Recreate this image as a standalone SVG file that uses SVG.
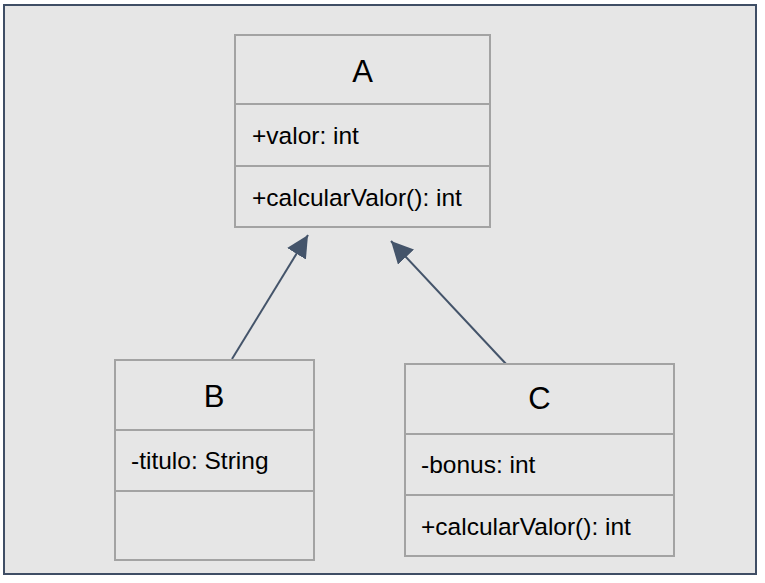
<svg xmlns="http://www.w3.org/2000/svg" width="765" height="583" viewBox="0 0 765 583">
  <style>
    .frame { fill: #e6e6e6; stroke: #3f4e65; stroke-width: 2; }
    .box { fill: #e6e6e6; stroke: #a3a3a3; stroke-width: 2; }
    .div { stroke: #a3a3a3; stroke-width: 2; }
    .title { font-family: "Liberation Sans", Arial, sans-serif; font-size: 31px; fill: #000; text-anchor: middle; }
    .member { font-family: "Liberation Sans", Arial, sans-serif; font-size: 24.5px; fill: #000; }
    .conn { stroke: #44546a; stroke-width: 2; fill: none; marker-end: url(#tri); }
  </style>
  <defs>
    <marker id="tri" markerUnits="userSpaceOnUse" viewBox="0 0 22 22" refX="22" refY="11" markerWidth="22" markerHeight="22" orient="auto">
      <path d="M0,0 L22,11 L0,22 z" fill="#44546a"/>
    </marker>
  </defs>
  <rect class="frame" x="4" y="5" width="752" height="569"/>
  <g id="connectors">
    <line class="conn" x1="232" y1="359" x2="308" y2="235"/>
    <line class="conn" x1="507" y1="365" x2="391" y2="241"/>
  </g>
  <g id="A">
    <rect class="box" x="235" y="35" width="255" height="192"/>
    <line class="div" x1="235" y1="104" x2="490" y2="104"/>
    <line class="div" x1="235" y1="166" x2="490" y2="166"/>
    <text class="title" x="362.5" y="82">A</text>
    <text class="member" x="252" y="144">+valor: int</text>
    <text class="member" x="252" y="206">+calcularValor(): int</text>
  </g>
  <g id="B">
    <rect class="box" x="115" y="360" width="199" height="200"/>
    <line class="div" x1="115" y1="430" x2="314" y2="430"/>
    <line class="div" x1="115" y1="491" x2="314" y2="491"/>
    <text class="title" x="214" y="407">B</text>
    <text class="member" x="131" y="469">-titulo: String</text>
  </g>
  <g id="C">
    <rect class="box" x="405" y="364" width="269" height="192"/>
    <line class="div" x1="405" y1="434" x2="674" y2="434"/>
    <line class="div" x1="405" y1="495" x2="674" y2="495"/>
    <text class="title" x="539.5" y="409">C</text>
    <text class="member" x="421" y="473">-bonus: int</text>
    <text class="member" x="421" y="535">+calcularValor(): int</text>
  </g>
</svg>
